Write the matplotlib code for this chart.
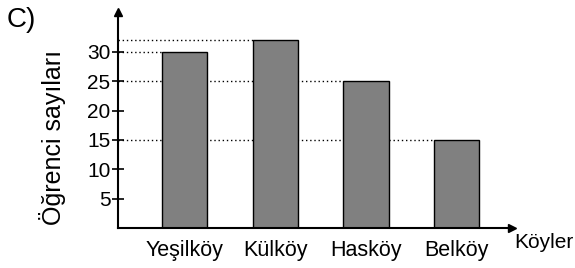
import matplotlib.pyplot as plt

villages = ["Yeşilköy", "Külköy", "Hasköy", "Belköy"]
students = [30, 32, 25, 15]
y_ticks = [5, 10, 15, 20, 25, 30]

plt.rcParams["font.family"] = ["Liberation Sans", "DejaVu Sans"]

fig = plt.figure(figsize=(5.75, 2.68), dpi=100, facecolor="white")
ax = fig.add_axes([0.2052, 0.1493, 0.6852, 0.8057])

x_pos = list(range(len(villages)))
x_left = -0.733
ax.set_xlim(x_left, 3.61)
ax.set_ylim(0, 36.8)

# dotted guide lines from the axis to each bar
for x, v in zip(x_pos, students):
    ax.hlines(v, x_left, x - 0.25, colors="black", linestyles=(0, (1, 2)),
              linewidth=1, zorder=1)

ax.bar(x_pos, students, width=0.5, color="#808080", edgecolor="black",
       linewidth=1, zorder=2)

for side in ["top", "right"]:
    ax.spines[side].set_visible(False)
for side in ["left", "bottom"]:
    ax.spines[side].set_linewidth(1.5)

# arrow heads on the axes
ax.plot(1, 0, ">k", transform=ax.transAxes, clip_on=False, markersize=6)
ax.plot(0, 1, "^k", transform=ax.transAxes, clip_on=False, markersize=6)

ax.set_yticks(y_ticks)
ax.set_yticklabels([str(t) for t in y_ticks], fontsize=15)
ax.tick_params(axis="y", direction="inout", length=9, width=1.2, pad=1)
ax.set_xticks(x_pos)
ax.set_xticklabels(villages, fontsize=15.5)
ax.tick_params(axis="x", length=0, pad=9)

ax.set_ylabel("Öğrenci sayıları", fontsize=18)
ax.yaxis.set_label_coords(-0.133, 0.42)
fig.text(0.895, 0.095, "Köyler", fontsize=15, ha="left", va="center")
fig.text(0.012, 0.925, "C)", fontsize=20, ha="left", va="center")

fig.savefig("out.png", dpi=100)
